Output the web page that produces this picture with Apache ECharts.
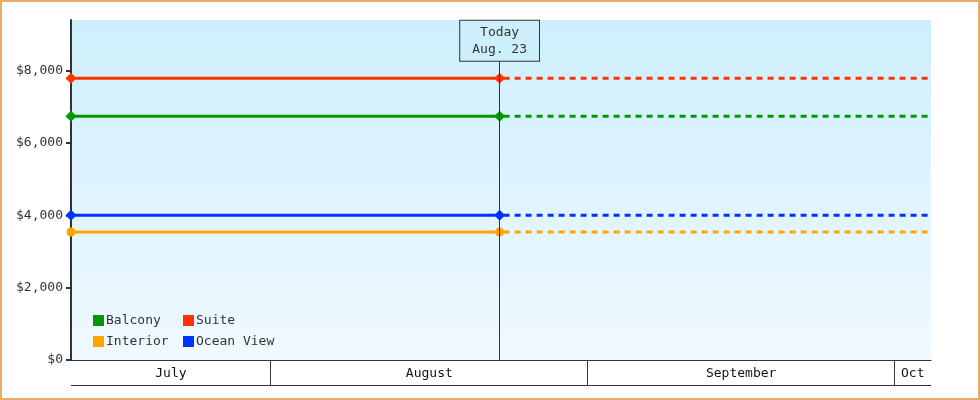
<!DOCTYPE html>
<html>
<head>
<meta charset="utf-8">
<script src="https://cdn.jsdelivr.net/npm/echarts@6/dist/echarts.min.js"></script>
<style>
  html, body { margin: 0; padding: 0; background: #fff; }
  #frame { width: 980px; height: 400px; box-sizing: border-box; border: 2px solid #eaa964; }
  #chart { width: 976px; height: 396px; }
</style>
</head>
<body>
<div id="frame"><div id="chart"></div></div>
<script>
// data
var rooms = ['Balcony', 'Suite', 'Interior', 'Ocean View'];
var prices = [6740, 7790, 3540, 4000];
var roomColors = ['#009900', '#ff3300', '#ffa500', '#0033ff'];
var roomSymbols = ['diamond', 'diamond', 'circle', 'diamond'];
var startDate = '2013-07-12 11:00';
var todayDate = '2013-08-23 09:00';
var endDate = '2013-10-04 13:30';
var monthNames = ['July', 'August', 'September', 'Oct'];
var monthStarts = ['2013-07-01', '2013-08-01', '2013-09-01', '2013-10-01'];
var monthEnds = ['2013-08-01', '2013-09-01', '2013-10-01', '2013-11-01'];
var yTicks = [0, 2000, 4000, 6000, 8000];

var font = 'DejaVu Sans Mono';
var chartDom = document.getElementById('chart');
var myChart = echarts.init(chartDom);
var option;

function ts(d) { return echarts.time.parse(d).getTime(); }
var minT = ts(startDate);
var maxT = ts(endDate);

var series = [];
rooms.forEach(function (name, i) {
    var s = {
        name: name,
        type: 'line',
        xAxisIndex: 0,
        yAxisIndex: 0,
        color: roomColors[i],
        symbol: roomSymbols[i],
        symbolSize: roomSymbols[i] === 'circle' ? 9 : 11,
        lineStyle: { width: 3 },
        z: 3,
        data: [[startDate, prices[i]], [todayDate, prices[i]]]
    };
    if (i === 0) {
        s.markLine = {
            silent: true,
            symbol: 'none',
            lineStyle: { type: 'solid', color: '#333', width: 1 },
            label: {
                position: 'end',
                distance: 0,
                formatter: 'Today\nAug. 23',
                fontFamily: font,
                fontSize: 13,
                lineHeight: 17,
                color: '#333',
                padding: [3, 12, 3, 12],
                borderColor: '#333',
                borderWidth: 1,
                backgroundColor: '#cdeffc'
            },
            data: [[{ coord: [todayDate, 0] }, { coord: [todayDate, 8275] }]]
        };
    }
    series.push(s);
    series.push({
        name: name,
        type: 'line',
        xAxisIndex: 0,
        yAxisIndex: 0,
        color: roomColors[i],
        showSymbol: false,
        lineStyle: { width: 3, type: [6, 5], dashOffset: -4 },
        z: 2,
        data: [[todayDate, prices[i]], [endDate, prices[i]]]
    });
});

// month band under the plot
series.push({
    type: 'custom',
    xAxisIndex: 1,
    yAxisIndex: 1,
    silent: true,
    clip: false,
    renderItem: function (params, api) {
        var s = Math.max(api.value(0), minT);
        var e = Math.min(api.value(1), maxT);
        var p0 = api.coord([s, 1]);
        var p1 = api.coord([e, 0]);
        var kids = [
            { type: 'line', shape: { x1: p0[0], y1: p1[1] - 0.5, x2: p1[0], y2: p1[1] - 0.5 }, style: { stroke: '#333', lineWidth: 1 } }
        ];
        if (api.value(0) > minT) {
            var vx = Math.round(p0[0]) - 0.5;
            kids.push({ type: 'line', shape: { x1: vx, y1: p0[1], x2: vx, y2: p1[1] }, style: { stroke: '#333', lineWidth: 1 } });
        }
        kids.push({
            type: 'text',
            x: (p0[0] + p1[0]) / 2,
            y: (p0[1] + p1[1]) / 2 + 1,
            style: {
                text: monthNames[params.dataIndex],
                align: 'center',
                verticalAlign: 'middle',
                fill: '#111',
                font: '13px "' + font + '"'
            }
        });
        return { type: 'group', children: kids };
    },
    data: monthNames.map(function (n, i) {
        return [ts(monthStarts[i]), ts(monthEnds[i])];
    })
});

option = {
    animation: false,
    textStyle: { fontFamily: font },
    grid: [
        {
            left: 69, top: 18, width: 860, height: 340,
            show: true, borderWidth: 0,
            backgroundColor: {
                type: 'linear', x: 0, y: 0, x2: 0, y2: 1,
                colorStops: [{ offset: 0, color: '#cdeffc' }, { offset: 1, color: '#f0f9ff' }]
            }
        },
        { left: 69, top: 358, width: 860, height: 26 }
    ],
    xAxis: [
        {
            type: 'time', gridIndex: 0, min: startDate, max: endDate,
            axisLine: { show: true, onZero: false, lineStyle: { color: '#333', width: 1 } },
            axisTick: { show: false }, axisLabel: { show: false }, splitLine: { show: false }
        },
        {
            type: 'time', gridIndex: 1, min: minT, max: maxT,
            axisLine: { show: false }, axisTick: { show: false },
            axisLabel: { show: false }, splitLine: { show: false }
        }
    ],
    yAxis: [
        {
            type: 'value', gridIndex: 0, min: 0, max: 9400,
            axisLine: { show: true, lineStyle: { color: '#333', width: 2 } },
            axisTick: { show: true, length: 5, customValues: yTicks, lineStyle: { color: '#333', width: 2 } },
            axisLabel: {
                customValues: yTicks,
                margin: 8,
                color: '#333',
                fontFamily: font,
                fontSize: 13,
                formatter: function (v) { return '$' + v.toLocaleString('en-US'); }
            },
            splitLine: { show: false }
        },
        {
            type: 'value', gridIndex: 1, min: 0, max: 1, show: false
        }
    ],
    legend: [
        {
            left: 91, top: 312, orient: 'vertical', itemGap: 8, padding: 0,
            itemWidth: 11, itemHeight: 11, icon: 'rect', itemStyle: { borderWidth: 0 },
            textStyle: { fontFamily: font, fontSize: 13, color: '#333', padding: [0, 0, 0, -3] },
            data: ['Balcony', 'Interior']
        },
        {
            left: 181, top: 312, orient: 'vertical', itemGap: 8, padding: 0,
            itemWidth: 11, itemHeight: 11, icon: 'rect', itemStyle: { borderWidth: 0 },
            textStyle: { fontFamily: font, fontSize: 13, color: '#333', padding: [0, 0, 0, -3] },
            data: ['Suite', 'Ocean View']
        }
    ],
    series: series
};

option && myChart.setOption(option);
</script>
</body>
</html>
